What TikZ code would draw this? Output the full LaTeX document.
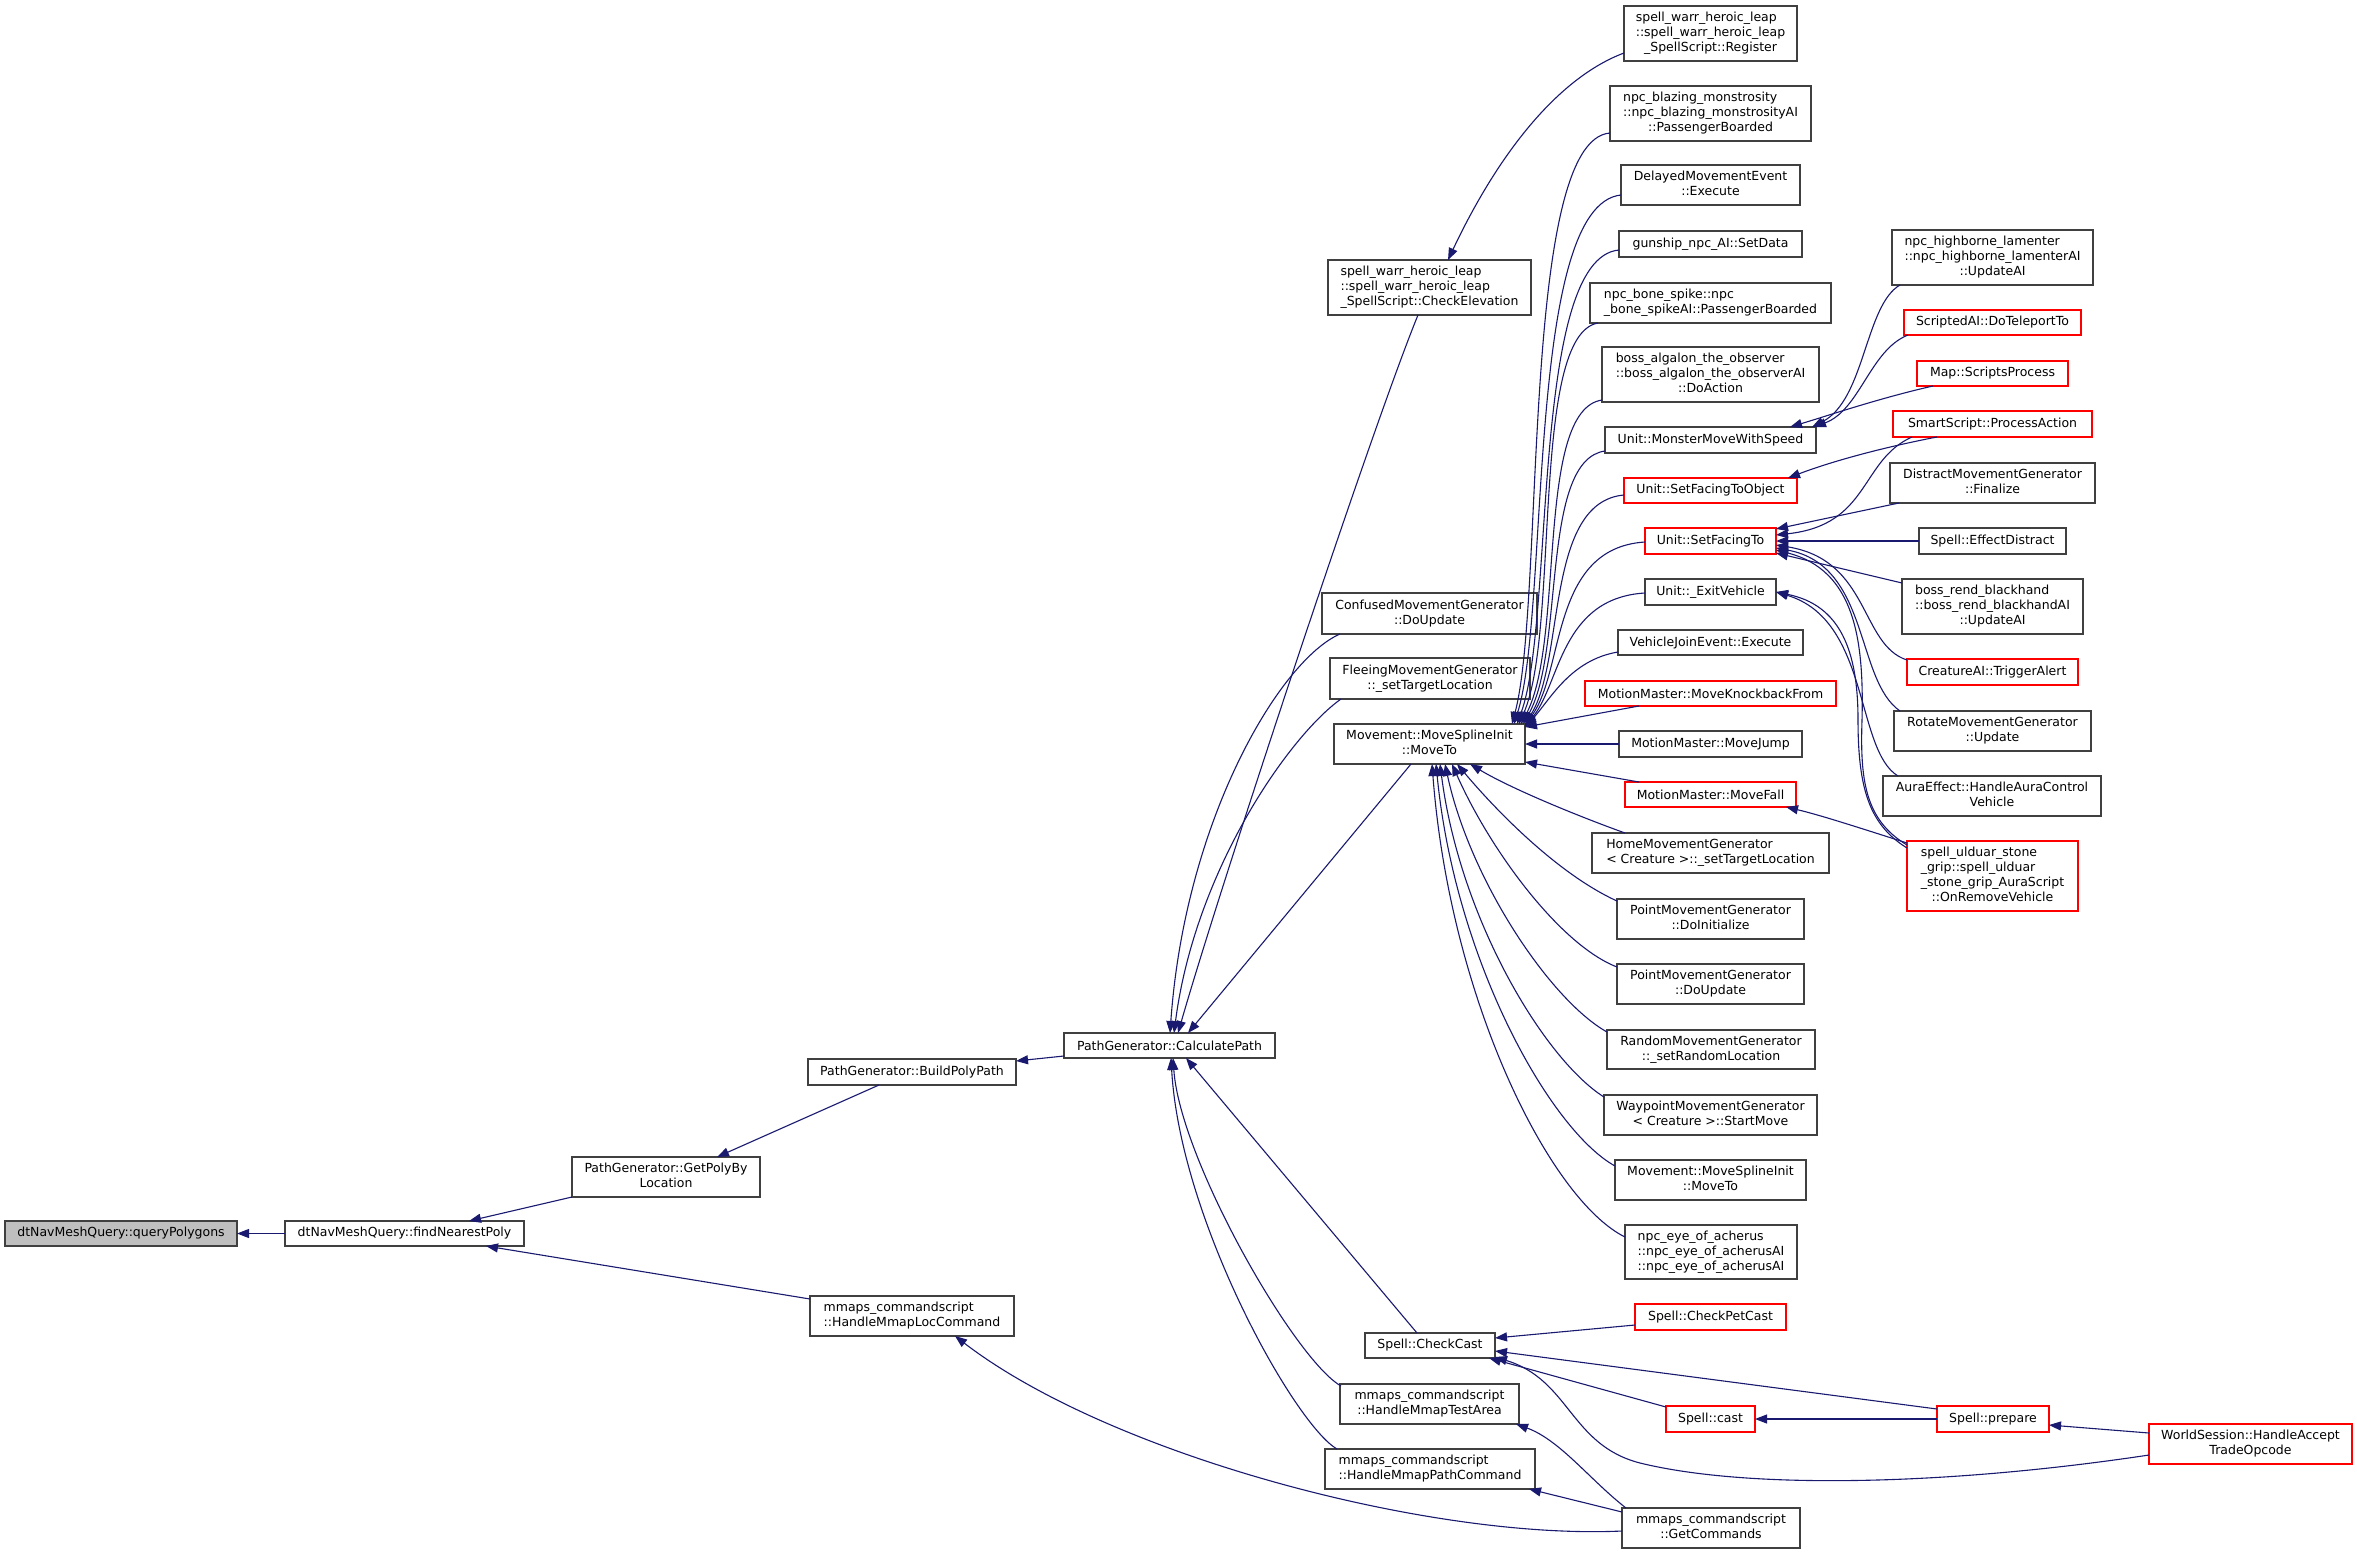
\documentclass[tikz,border=0pt]{standalone}
\usepackage{fontspec}
\setmainfont{DejaVu Sans}
\usetikzlibrary{arrows.meta}
\definecolor{eblue}{HTML}{191970}
\newcommand\Ltwo[2]{\begin{tabular}{@{}l@{}}#1\\\multicolumn{1}{@{}c@{}}{#2}\end{tabular}}
\newcommand\Lthree[3]{\begin{tabular}{@{}l@{}}#1\\#2\\\multicolumn{1}{@{}c@{}}{#3}\end{tabular}}
\newcommand\Lfour[4]{\begin{tabular}{@{}l@{}}#1\\#2\\#3\\\multicolumn{1}{@{}c@{}}{#4}\end{tabular}}
\newcommand\gnode[7]{\node[#6,minimum width={(#4-#2)*1pt},minimum height={(#5-#3)*1pt}] (#1) at ({(#2+#4)/2},{(#3+#5)/2}) {#7};}
\tikzset{
  nb/.style={draw=black!75,line width=1.3pt,fill=white,rectangle,inner sep=0pt,outer sep=0pt,font=\fontsize{12.5}{15}\selectfont},
  nr/.style={nb,draw=red},
  nroot/.style={nb,fill=black!25},
  edge/.style={draw=eblue,line width=1.1pt,-{Triangle[length=12pt,width=9pt]}}
}
\begin{document}
\begin{tikzpicture}[x=1pt,y=-1pt]
\useasboundingbox[fill=white] (0,0) rectangle (2357,1554);
% column 0-4
\gnode{qp}{5}{1221}{237}{1246}{nroot}{dtNavMeshQuery::queryPolygons}
\gnode{fnp}{285}{1221}{524}{1246}{nb}{dtNavMeshQuery::findNearestPoly}
\gnode{gpl}{572}{1157}{760}{1197}{nb}{\Ltwo{PathGenerator::GetPolyBy}{Location}}
\gnode{hml}{810}{1296}{1014}{1336}{nb}{\Ltwo{mmaps\_commandscript}{::HandleMmapLocCommand}}
\gnode{bpp}{808}{1059}{1016}{1085}{nb}{PathGenerator::BuildPolyPath}
\gnode{cp}{1064}{1033}{1275}{1058}{nb}{PathGenerator::CalculatePath}
% column 5
\gnode{ce}{1328}{260}{1531}{315}{nb}{\Lthree{spell\_warr\_heroic\_leap}{::spell\_warr\_heroic\_leap}{\_SpellScript::CheckElevation}}
\gnode{cmg}{1322}{593}{1537}{634}{nb}{\Ltwo{ConfusedMovementGenerator}{::DoUpdate}}
\gnode{fmg}{1330}{658}{1530}{699}{nb}{\Ltwo{FleeingMovementGenerator}{::\_setTargetLocation}}
\gnode{mt}{1334}{724}{1525}{764}{nb}{\Ltwo{Movement::MoveSplineInit}{::MoveTo}}
\gnode{cc}{1365}{1333}{1495}{1358}{nb}{Spell::CheckCast}
\gnode{hta}{1340}{1384}{1519}{1424}{nb}{\Ltwo{mmaps\_commandscript}{::HandleMmapTestArea}}
\gnode{hpc}{1325}{1449}{1535}{1489}{nb}{\Ltwo{mmaps\_commandscript}{::HandleMmapPathCommand}}
% column 6
\gnode{reg}{1624}{6}{1797}{61}{nb}{\Lthree{spell\_warr\_heroic\_leap}{::spell\_warr\_heroic\_leap}{\_SpellScript::Register}}
\gnode{blz}{1610}{86}{1811}{141}{nb}{\Lthree{npc\_blazing\_monstrosity}{::npc\_blazing\_monstrosityAI}{::PassengerBoarded}}
\gnode{dme}{1621}{165}{1800}{205}{nb}{\Ltwo{DelayedMovementEvent}{::Execute}}
\gnode{gun}{1619}{231}{1802}{257}{nb}{gunship\_npc\_AI::SetData}
\gnode{bsp}{1590}{283}{1831}{323}{nb}{\Ltwo{npc\_bone\_spike::npc}{\_bone\_spikeAI::PassengerBoarded}}
\gnode{alg}{1602}{347}{1819}{402}{nb}{\Lthree{boss\_algalon\_the\_observer}{::boss\_algalon\_the\_observerAI}{::DoAction}}
\gnode{mmws}{1605}{427}{1816}{453}{nb}{Unit::MonsterMoveWithSpeed}
\gnode{sfto}{1624}{478}{1797}{503}{nr}{Unit::SetFacingToObject}
\gnode{sft}{1645}{528}{1776}{554}{nr}{Unit::SetFacingTo}
\gnode{ev}{1645}{579}{1776}{605}{nb}{Unit::\_ExitVehicle}
\gnode{vje}{1618}{630}{1803}{655}{nb}{VehicleJoinEvent::Execute}
\gnode{mkf}{1585}{681}{1836}{706}{nr}{MotionMaster::MoveKnockbackFrom}
\gnode{mj}{1619}{731}{1802}{757}{nb}{MotionMaster::MoveJump}
\gnode{mf}{1625}{782}{1796}{807}{nr}{MotionMaster::MoveFall}
\gnode{hmg}{1592}{833}{1829}{873}{nb}{\Ltwo{HomeMovementGenerator}{< Creature >::\_setTargetLocation}}
\gnode{pmi}{1617}{899}{1804}{939}{nb}{\Ltwo{PointMovementGenerator}{::DoInitialize}}
\gnode{pmu}{1617}{964}{1804}{1004}{nb}{\Ltwo{PointMovementGenerator}{::DoUpdate}}
\gnode{rmg}{1607}{1030}{1815}{1069}{nb}{\Ltwo{RandomMovementGenerator}{::\_setRandomLocation}}
\gnode{wmg}{1604}{1095}{1817}{1135}{nb}{\Ltwo{WaypointMovementGenerator}{< Creature >::StartMove}}
\gnode{mtb}{1615}{1160}{1806}{1200}{nb}{\Ltwo{Movement::MoveSplineInit}{::MoveTo}}
\gnode{eye}{1625}{1225}{1797}{1279}{nb}{\Lthree{npc\_eye\_of\_acherus}{::npc\_eye\_of\_acherusAI}{::npc\_eye\_of\_acherusAI}}
\gnode{cpc}{1635}{1304}{1786}{1330}{nr}{Spell::CheckPetCast}
\gnode{cast}{1666}{1406}{1755}{1432}{nr}{Spell::cast}
\gnode{gc}{1622}{1508}{1800}{1548}{nb}{\Ltwo{mmaps\_commandscript}{::GetCommands}}
% column 7
\gnode{hbl}{1892}{230}{2093}{285}{nb}{\Lthree{npc\_highborne\_lamenter}{::npc\_highborne\_lamenterAI}{::UpdateAI}}
\gnode{dtt}{1904}{310}{2081}{335}{nr}{ScriptedAI::DoTeleportTo}
\gnode{msp}{1917}{361}{2068}{386}{nr}{Map::ScriptsProcess}
\gnode{spa}{1893}{411}{2092}{437}{nr}{SmartScript::ProcessAction}
\gnode{dmg}{1890}{463}{2095}{503}{nb}{\Ltwo{DistractMovementGenerator}{::Finalize}}
\gnode{sed}{1919}{528}{2066}{554}{nb}{Spell::EffectDistract}
\gnode{brb}{1902}{579}{2083}{634}{nb}{\Lthree{boss\_rend\_blackhand}{::boss\_rend\_blackhandAI}{::UpdateAI}}
\gnode{cta}{1907}{659}{2078}{685}{nr}{CreatureAI::TriggerAlert}
\gnode{rmu}{1894}{711}{2091}{751}{nb}{\Ltwo{RotateMovementGenerator}{::Update}}
\gnode{aeh}{1883}{776}{2101}{816}{nb}{\Ltwo{AuraEffect::HandleAuraControl}{Vehicle}}
\gnode{usg}{1907}{841}{2078}{911}{nr}{\Lfour{spell\_ulduar\_stone}{\_grip::spell\_ulduar}{\_stone\_grip\_AuraScript}{::OnRemoveVehicle}}
\gnode{prep}{1937}{1406}{2049}{1432}{nr}{Spell::prepare}
% column 8
\gnode{ws}{2149}{1424}{2352}{1464}{nr}{\Ltwo{WorldSession::HandleAccept}{TradeOpcode}}
% ---------------- edges
\draw[edge] (fnp.west) -- (qp.east);
\draw[edge] (gpl.south west) -- ([shift={(184,0)}]fnp.north west);
\draw[edge] ([shift={(0,3)}]hml.north west) -- ([shift={(201,25)}]fnp.north west);
\draw[edge] ([shift={(71,26)}]bpp.north west) -- ([shift={(145,0)}]gpl.north west);
\draw[edge] ([shift={(0,23)}]cp.north west) -- ([shift={(208,2)}]bpp.north west);
\draw[edge] ([shift={(90,55)}]ce.north west) .. controls (1374,422) and (1222,880) .. ([shift={(114,0)}]cp.north west);
\draw[edge] ([shift={(18,41)}]cmg.north west) .. controls (1280,660) and (1185,820) .. ([shift={(106,0)}]cp.north west);
\draw[edge] ([shift={(11,41)}]fmg.north west) .. controls (1290,735) and (1195,870) .. ([shift={(110,0)}]cp.north west);
\draw[edge] ([shift={(77,40)}]mt.north west) -- ([shift={(124,0)}]cp.north west);
\draw[edge] ([shift={(52,0)}]cc.north west) -- ([shift={(122,25)}]cp.north west);
\draw[edge] ([shift={(1,2)}]hta.north west) .. controls (1295,1360) and (1180,1160) .. ([shift={(109,25)}]cp.north west);
\draw[edge] ([shift={(12,0)}]hpc.north west) .. controls (1295,1425) and (1180,1220) .. ([shift={(107,25)}]cp.north west);
\draw[edge] ([shift={(0,47)}]reg.north west) .. controls (1560,77) and (1500,150) .. ([shift={(120,0)}]ce.north west);
\draw[edge] ([shift={(0,23)}]gc.north west) .. controls (1430,1540) and (1110,1455) .. ([shift={(145,40)}]hml.north west);
\draw[edge] ([shift={(4,0)}]gc.north west) .. controls (1590,1480) and (1560,1440) .. ([shift={(176,40)}]hta.north west);
\draw[edge] ([shift={(0,4)}]gc.north west) -- ([shift={(204,40)}]hpc.north west);
% callers of MoveTo (upper)
\draw[edge] ([shift={(0,47)}]blz.north west) .. controls (1520,140) and (1545,600) .. ([shift={(178,0)}]mt.north west);
\draw[edge] ([shift={(0,30)}]dme.north west) .. controls (1525,205) and (1550,610) .. ([shift={(180,0)}]mt.north west);
\draw[edge] ([shift={(0,19)}]gun.north west) .. controls (1530,258) and (1555,620) .. ([shift={(183,0)}]mt.north west);
\draw[edge] ([shift={(8,40)}]bsp.north west) .. controls (1530,335) and (1560,630) .. ([shift={(185,0)}]mt.north west);
\draw[edge] ([shift={(0,53)}]alg.north west) .. controls (1535,410) and (1565,640) .. ([shift={(187,0)}]mt.north west);
\draw[edge] ([shift={(0,24)}]mmws.north west) .. controls (1540,460) and (1565,650) .. ([shift={(189,0)}]mt.north west);
\draw[edge] ([shift={(0,17)}]sfto.north west) .. controls (1545,502) and (1565,660) .. ([shift={(191,0)}]mt.north west);
\draw[edge] ([shift={(0,14)}]sft.north west) .. controls (1550,548) and (1565,670) .. ([shift={(191,1)}]mt.north west);
\draw[edge] ([shift={(0,14)}]ev.north west) .. controls (1560,598) and (1560,685) .. ([shift={(191,2)}]mt.north west);
\draw[edge] ([shift={(0,22)}]vje.north west) .. controls (1570,660) and (1550,700) .. ([shift={(191,3)}]mt.north west);
\draw[edge] ([shift={(54,25)}]mkf.north west) -- ([shift={(191,3)}]mt.north west);
\draw[edge] (mj.west) -- (mt.east);
\draw[edge] ([shift={(14,0)}]mf.north west) -- ([shift={(191,38)}]mt.north west);
% callers of MoveTo (lower)
\draw[edge] ([shift={(33,0)}]hmg.north west) .. controls (1575,815) and (1510,788) .. ([shift={(136,40)}]mt.north west);
\draw[edge] ([shift={(0,2)}]pmi.north west) .. controls (1560,875) and (1500,815) .. ([shift={(123,40)}]mt.north west);
\draw[edge] ([shift={(0,3)}]pmu.north west) .. controls (1560,945) and (1490,850) .. ([shift={(118,40)}]mt.north west);
\draw[edge] ([shift={(0,2)}]rmg.north west) .. controls (1550,1000) and (1470,880) .. ([shift={(111,40)}]mt.north west);
\draw[edge] ([shift={(0,2)}]wmg.north west) .. controls (1545,1060) and (1460,920) .. ([shift={(106,40)}]mt.north west);
\draw[edge] ([shift={(0,6)}]mtb.north west) .. controls (1550,1130) and (1455,960) .. ([shift={(102,40)}]mt.north west);
\draw[edge] ([shift={(0,12)}]eye.north west) .. controls (1550,1200) and (1450,1000) .. ([shift={(98,40)}]mt.north west);
% callers of MonsterMoveWithSpeed
\draw[edge] ([shift={(8,55)}]hbl.north west) .. controls (1865,305) and (1865,400) .. ([shift={(207,0)}]mmws.north west);
\draw[edge] ([shift={(4,25)}]dtt.north west) .. controls (1870,350) and (1860,410) .. ([shift={(209,0)}]mmws.north west);
\draw[edge] ([shift={(16,25)}]msp.north west) .. controls (1880,398) and (1830,415) .. ([shift={(185,0)}]mmws.north west);
% SetFacingToObject / SetFacingTo
\draw[edge] ([shift={(44,26)}]spa.north west) .. controls (1880,448) and (1830,462) .. ([shift={(164,0)}]sfto.north west);
\draw[edge] ([shift={(19,26)}]spa.north west) .. controls (1860,460) and (1870,525) .. ([shift={(131,7)}]sft.north west);
\draw[edge] ([shift={(9,40)}]dmg.north west) -- ([shift={(131,1)}]sft.north west);
\draw[edge] (sed.west) -- (sft.east);
\draw[edge] ([shift={(0,4)}]brb.north west) -- ([shift={(131,25)}]sft.north west);
\draw[edge] ([shift={(0,1)}]cta.north west) .. controls (1860,645) and (1870,560) .. ([shift={(131,17)}]sft.north west);
\draw[edge] ([shift={(6,0)}]rmu.north west) .. controls (1855,680) and (1870,565) .. ([shift={(131,20)}]sft.north west);
\draw[edge] ([shift={(0,4)}]usg.north west) .. controls (1865,820) and (1860,780) .. (1862,720) .. controls (1864,640) and (1855,570) .. ([shift={(131,22)}]sft.north west);
% _ExitVehicle / MoveFall
\draw[edge] ([shift={(0,7)}]usg.north west) .. controls (1870,825) and (1858,790) .. (1858,720) .. controls (1858,650) and (1840,605) .. (ev.east);
\draw[edge] ([shift={(15,0)}]aeh.north west) .. controls (1855,750) and (1870,620) .. (ev.east);
\draw[edge] ([shift={(0,2)}]usg.north west) .. controls (1860,828) and (1820,815) .. ([shift={(161,25)}]mf.north west);
% CheckCast and friends
\draw[edge] ([shift={(0,21)}]cpc.north west) -- ([shift={(130,5)}]cc.north west);
\draw[edge] ([shift={(0,3)}]prep.north west) -- ([shift={(130,18)}]cc.north west);
\draw[edge] ([shift={(0,1)}]cast.north west) -- ([shift={(124,25)}]cc.north west);
\draw[edge] ([shift={(0,31)}]ws.north west) .. controls (1950,1485) and (1750,1490) .. (1640,1463) .. controls (1570,1445) and (1570,1380) .. ([shift={(130,24)}]cc.north west);
\draw[edge] (prep.west) -- (cast.east);
\draw[edge] ([shift={(0,9)}]ws.north west) -- ([shift={(112,19)}]prep.north west);
\end{tikzpicture}
\end{document}
